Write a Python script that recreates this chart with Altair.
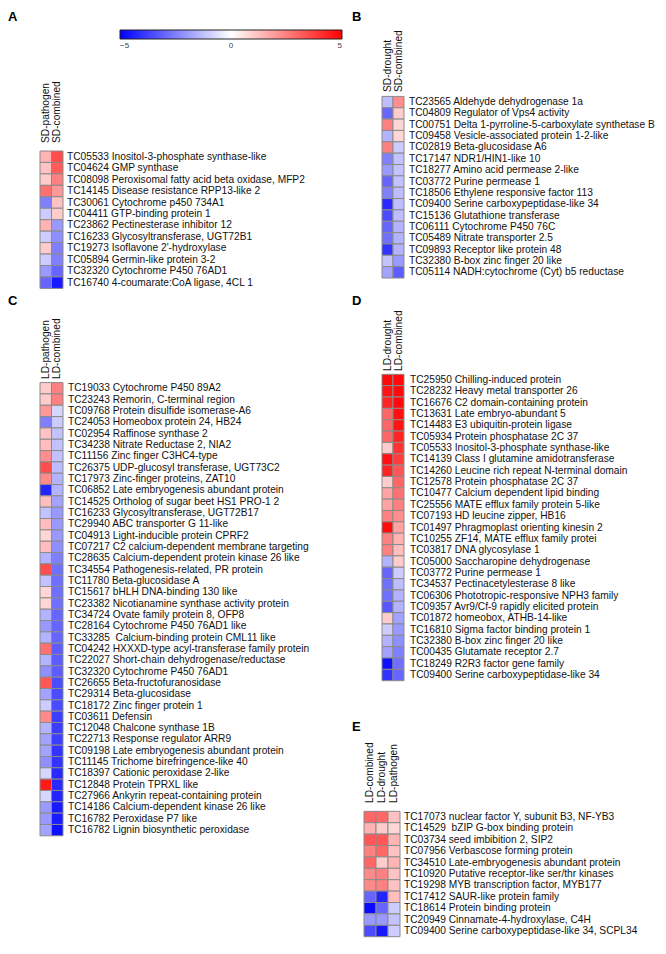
import altair as alt
import pandas as pd

# ---------------- data ----------------
colorbar_ticks = [-5, 0, 5]

a_conditions = ["SD-pathogen", "SD-combined"]
a_genes = [
    "TC05533 Inositol-3-phosphate synthase-like",
    "TC04624 GMP synthase",
    "TC08098 Peroxisomal fatty acid beta oxidase, MFP2",
    "TC14145 Disease resistance RPP13-like 2",
    "TC30061 Cytochrome p450 734A1",
    "TC04411 GTP-binding protein 1",
    "TC23862 Pectinesterase inhibitor 12",
    "TC16233 Glycosyltransferase, UGT72B1",
    "TC19273 Isoflavone 2'-hydroxylase",
    "TC05894 Germin-like protein 3-2",
    "TC32320 Cytochrome P450 76AD1",
    "TC16740 4-coumarate:CoA ligase, 4CL 1",
]
a_pathogen = [1.5, 1.2, 1.0, 2.8, -2.5, -1.0, 1.5, -1.0, 1.0, -1.0, -2.0, -3.0]
a_combined = [3.5, 3.2, 2.5, 2.0, 1.2, 1.0, -2.0, -2.2, -2.5, -2.5, -3.0, -4.5]

b_conditions = ["SD-drought", "SD-combined"]
b_genes = [
    "TC23565 Aldehyde dehydrogenase 1a",
    "TC04809 Regulator of Vps4 activity",
    "TC00751 Delta 1-pyrroline-5-carboxylate synthetase B",
    "TC09458 Vesicle-associated protein 1-2-like",
    "TC02819 Beta-glucosidase A6",
    "TC17147 NDR1/HIN1-like 10",
    "TC18277 Amino acid permease 2-like",
    "TC03772 Purine permease 1",
    "TC18506 Ethylene responsive factor 113",
    "TC09400 Serine carboxypeptidase-like 34",
    "TC15136 Glutathione transferase",
    "TC06111 Cytochrome P450 76C",
    "TC05489 Nitrate transporter 2.5",
    "TC09893 Receptor like protein 48",
    "TC32380 B-box zinc finger 20 like",
    "TC05114 NADH:cytochrome (Cyt) b5 reductase",
]
b_drought = [-1.3, -3.0, 2.5, -1.5, 2.5, -2.5, -2.0, -3.0, -2.5, -4.2, -3.5, -3.0, -2.8, -4.0, -1.2, -1.8]
b_combined = [2.2, 1.0, 0.8, 0.8, -1.0, -1.2, -1.2, -1.2, -1.3, -1.3, -1.3, -1.5, -1.5, -1.5, -2.0, -3.2]

c_conditions = ["LD-pathogen", "LD-combined"]
c_genes = [
    "TC19033 Cytochrome P450 89A2",
    "TC23243 Remorin, C-terminal region",
    "TC09768 Protein disulfide isomerase-A6",
    "TC24053 Homeobox protein 24, HB24",
    "TC02954 Raffinose synthase 2",
    "TC34238 Nitrate Reductase 2, NIA2",
    "TC11156 Zinc finger C3HC4-type",
    "TC26375 UDP-glucosyl transferase, UGT73C2",
    "TC17973 Zinc-finger proteins, ZAT10",
    "TC06852 Late embryogenesis abundant protein",
    "TC14525 Ortholog of sugar beet HS1 PRO-1 2",
    "TC16233 Glycosyltransferase, UGT72B17",
    "TC29940 ABC transporter G 11-like",
    "TC04913 Light-inducible protein CPRF2",
    "TC07217 C2 calcium-dependent membrane targeting",
    "TC28635 Calcium-dependent protein kinase 26 like",
    "TC34554 Pathogenesis-related, PR protein",
    "TC11780 Beta-glucosidase A",
    "TC15617 bHLH DNA-binding 130 like",
    "TC23382 Nicotianamine synthase activity protein",
    "TC34724 Ovate family protein 8, OFP8",
    "TC28164 Cytochrome P450 76AD1 like",
    "TC33285 \u00a0Calcium-binding protein CML11 like",
    "TC04242 HXXXD-type acyl-transferase family protein",
    "TC22027 Short-chain dehydrogenase/reductase",
    "TC32320 Cytochrome P450 76AD1",
    "TC26655 Beta-fructofuranosidase",
    "TC29314 Beta-glucosidase",
    "TC18172 Zinc finger protein 1",
    "TC03611 Defensin",
    "TC12048 Chalcone synthase 1B",
    "TC22713 Response regulator ARR9",
    "TC09198 Late embryogenesis abundant protein",
    "TC11145 Trichome birefringence-like 40",
    "TC18397 Cationic peroxidase 2-like",
    "TC12848 Protein TPRXL like",
    "TC27966 Ankyrin repeat-containing protein",
    "TC14186 Calcium-dependent kinase 26 like",
    "TC16782 Peroxidase P7 like",
    "TC16782 Lignin biosynthetic peroxidase",
]
c_pathogen = [1.0, 1.0, 2.0, -2.5, 1.2, 1.3, 2.2, 3.5, 2.3, -4.3,
              1.3, -1.2, 1.3, 0.8, 1.3, -1.5, 3.5, -1.2, 0.8, 0.8,
              -1.5, -2.0, -1.5, 2.8, -1.5, -2.2, 3.3, -1.8, -1.0, 2.3,
              -1.5, -1.8, -1.8, -2.2, -0.8, 4.5, -0.8, -2.0, -2.0, -1.8]
c_combined = [2.5, 2.5, -0.8, -1.0, -1.2, -1.2, -1.2, -1.3, -1.5, -1.5,
              -1.8, -2.0, -2.0, -2.0, -2.2, -2.5, -2.8, -2.8, -2.8, -2.8,
              -3.0, -3.0, -3.0, -3.2, -3.2, -3.2, -3.5, -3.5, -3.5, -3.8,
              -3.8, -3.8, -4.0, -4.0, -4.2, -4.2, -4.3, -4.5, -4.5, -4.7]

d_conditions = ["LD-drought", "LD-combined"]
d_genes = [
    "TC25950 Chilling-induced protein",
    "TC28232 Heavy metal transporter 26",
    "TC16676 C2 domain-containing protein",
    "TC13631 Late embryo-abundant 5",
    "TC14483 E3 ubiquitin-protein ligase",
    "TC05934 Protein phosphatase 2C 37",
    "TC05533 Inositol-3-phosphate synthase-like",
    "TC14139 Class I glutamine amidotransferase",
    "TC14260 Leucine rich repeat N-terminal domain",
    "TC12578 Protein phosphatase 2C 37",
    "TC10477 Calcium dependent lipid binding",
    "TC25556 MATE efflux family protein 5-like",
    "TC07193 HD leucine zipper, HB16",
    "TC01497 Phragmoplast orienting kinesin 2",
    "TC10255 ZF14, MATE efflux family protei",
    "TC03817 DNA glycosylase 1",
    "TC05000 Saccharopine dehydrogenase",
    "TC03772 Purine permease 1",
    "TC34537 Pectinacetylesterase 8 like",
    "TC06306 Phototropic-responsive NPH3 family",
    "TC09357 Avr9/Cf-9 rapidly elicited protein",
    "TC01872 homeobox, ATHB-14-like",
    "TC16810 Sigma factor binding protein 1",
    "TC32380 B-box zinc finger 20 like",
    "TC00435 Glutamate receptor 2.7",
    "TC18249 R2R3 factor gene family",
    "TC09400 Serine carboxypeptidase-like 34",
]
d_drought = [4.8, 4.6, 4.3, 3.0, 3.0, 3.0, 1.0, 4.7, 4.3, 1.0,
             1.8, 1.8, 2.5, 4.8, 2.5, 2.5, -1.5, -3.0, -2.8, -2.8,
             -3.3, 1.0, -1.0, -1.5, -1.8, -4.7, -4.0]
d_combined = [4.8, 4.8, 4.8, 4.7, 4.6, 4.3, 4.0, 3.8, 3.3, 3.0,
              2.8, 2.5, 2.2, 1.8, 1.5, 1.3, 1.0, -1.0, -1.3, -1.5,
              -1.5, -1.8, -2.0, -2.2, -2.5, -2.8, -3.0]

e_conditions = ["LD-combined", "LD-drought", "LD-pathogen"]
e_genes = [
    "TC17073 nuclear factor Y, subunit B3, NF-YB3",
    "TC14529 \u00a0bZIP G-box binding protein",
    "TC03734 seed imbibition 2, SIP2",
    "TC07956 Verbascose forming protein",
    "TC34510 Late-embryogenesis abundant protein",
    "TC10920 Putative receptor-like ser/thr kinases",
    "TC19298 MYB transcription factor, MYB177",
    "TC17412 SAUR-like protein family",
    "TC18614 Protein binding protein",
    "TC20949 Cinnamate-4-hydroxylase, C4H",
    "TC09400 Serine carboxypeptidase-like 34, SCPL34",
]
e_combined = [3.0, 1.5, 3.3, 2.5, 3.0, 2.3, 2.3, -3.0, -4.8, -2.0, -3.5]
e_drought = [3.0, 1.0, 3.3, 3.0, 1.0, 2.5, 2.5, -4.3, -3.0, -2.0, -4.5]
e_pathogen = [1.2, 0.8, 1.5, 1.2, 1.5, 1.2, 1.2, 1.3, -1.0, -1.2, -1.0]

# ---------------- styling ----------------
FONT = "Liberation Sans"
TXT = "#111111"
GRID = "#8a8a8a"
FS = 10.2

cscale = alt.Scale(domain=[-5, 0, 5], range=["#0000ff", "#ffffff", "#ff0000"],
                   interpolate="rgb", clamp=True)
legend = alt.Legend(orient="none", legendX=112, legendY=22, direction="horizontal",
                    gradientLength=222, gradientThickness=9, title=None,
                    values=colorbar_ticks, labelFontSize=8, labelColor="#444",
                    labelFont=FONT, labelOffset=3, padding=0,
                    gradientStrokeColor="#222", gradientStrokeWidth=1)


def panel(conds, genes, series, xr, yr, head_y, label_x):
    n = len(genes)
    recs = []
    for ci, c in enumerate(conds):
        for i in range(n):
            recs.append({"idx": i, "cond": c, "value": series[ci][i]})
    df = pd.DataFrame(recs)
    lab = pd.DataFrame({"idx": list(range(n)), "gene": genes})
    hd = pd.DataFrame({"cond": conds})
    xs = alt.Scale(type="band", domain=conds, range=xr, paddingInner=0, paddingOuter=0)
    ys = alt.Scale(type="band", domain=list(range(n)), range=yr, paddingInner=0, paddingOuter=0)
    cells = alt.Chart(df).mark_rect(stroke=GRID, strokeWidth=1).encode(
        x=alt.X("cond:N", scale=xs, axis=None),
        y=alt.Y("idx:O", scale=ys, axis=None),
        color=alt.Color("value:Q", scale=cscale, legend=legend),
    )
    labels = alt.Chart(lab).mark_text(align="left", baseline="middle", fontSize=FS,
                                      font=FONT, color=TXT).encode(
        x=alt.value(label_x),
        y=alt.Y("idx:O", scale=ys, axis=None),
        text="gene:N",
    )
    heads = alt.Chart(hd).mark_text(angle=270, align="left", baseline="middle", fontSize=FS,
                                    font=FONT, color=TXT).encode(
        x=alt.X("cond:N", scale=xs, axis=None),
        y=alt.value(head_y),
        text="cond:N",
    )
    return alt.layer(cells, labels, heads)


pA = panel(a_conditions, a_genes, [a_pathogen, a_combined], [32, 55], [143, 280.4], 135, 59)
pB = panel(b_conditions, b_genes, [b_drought, b_combined], [374, 396], [88.4, 270], 84, 401)
pC = panel(c_conditions, c_genes, [c_pathogen, c_combined], [32, 55], [374.6, 827.8], 371, 60)
pD = panel(d_conditions, d_genes, [d_drought, d_combined], [374, 396], [366.3, 672.7], 363, 402)
pE = panel(e_conditions, e_genes, [e_combined, e_drought, e_pathogen], [356, 392], [803.3, 928.7], 795, 396)


def letter(t, x, y):
    return alt.Chart(pd.DataFrame({"t": [t]})).mark_text(
        align="left", baseline="alphabetic", fontSize=13, fontWeight="bold",
        font=FONT, color="#000").encode(x=alt.value(x), y=alt.value(y), text="t:N")


chart = alt.layer(
    pA, pB, pC, pD, pE,
    letter("A", 0, 13), letter("B", 344, 13), letter("C", 0, 297),
    letter("D", 344, 297), letter("E", 344, 723),
).resolve_scale(x="independent", y="independent").properties(
    width=650, height=938, padding=0, autosize="none", background="white"
).configure_view(stroke=None)

chart.save("out.html", embed_options={"renderer": "svg", "actions": False})
